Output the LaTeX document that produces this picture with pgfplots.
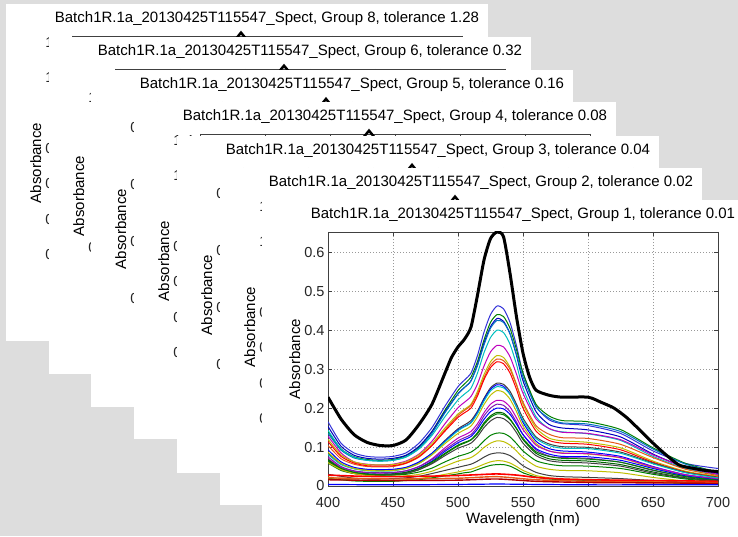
\documentclass[border=0pt]{standalone}
\usepackage{pgfplots}
\pgfplotsset{compat=1.18}
\usepackage{fontspec}
\setmainfont{Liberation Sans}
\definecolor{bggray}{RGB}{221,221,221}
\definecolor{mblue}{rgb}{0,0,1}
\definecolor{mviolet}{rgb}{0.2,0.2,0.85}
\definecolor{mnavy}{rgb}{0,0,0.75}
\definecolor{msteel}{rgb}{0,0.45,0.75}
\definecolor{mgreen}{rgb}{0,0.5,0}
\definecolor{mdgreen}{rgb}{0,0.4,0}
\definecolor{mred}{rgb}{1,0,0}
\definecolor{morange}{rgb}{0.9,0.35,0.1}
\definecolor{mcyan}{rgb}{0,0.75,0.75}
\definecolor{mmag}{rgb}{0.75,0,0.75}
\definecolor{mpurple}{rgb}{0.5,0.1,0.7}
\definecolor{myel}{rgb}{0.75,0.75,0}
\definecolor{mgray}{rgb}{0.25,0.25,0.25}
\definecolor{mdred}{rgb}{0.7,0,0}

\pgfplotsset{
  win/.style={
    scale only axis, width=390pt, height=254pt, anchor=south west,
    xmin=400, xmax=700, ymin=0,
    xtick={400,450,...,700},
    tick align=inside,
    axis line style={black!75},
    grid=major,
    grid style={black!40, dash pattern=on 0.8pt off 2.2pt, line width=0.5pt},
    tick style={black!75},
    major tick length=4pt,
    tick label style={font=\fontsize{14.5}{16}\selectfont, black!85},
    xticklabel style={yshift=-8pt},
    /pgf/number format/assume math mode=true,
    scaled y ticks=false,
    title style={font=\fontsize{15}{17}\selectfont, at={(axis description cs:0.5,1)}, anchor=center, yshift=11pt},
    ylabel={Absorbance},
    ylabel style={font=\fontsize{15}{17}\selectfont, at={(axis description cs:-0.085,0.5)}, anchor=center},
    xlabel={Wavelength (nm)},
    xlabel style={font=\fontsize{15}{17}\selectfont, at={(axis description cs:0.5,-0.134)}, anchor=center},
  },
  back/.style={win, clip=false,
    yticklabel style={xshift=-3pt},
    ylabel style={at={(axis description cs:-0.093,0.5)}}},
  wA/.style={back, ymax=1.436, ytick={0,0.2,...,1.4}},
  wB/.style={back, ymax=1.69, ytick={0,0.5,1,1.5}},
  wC/.style={back, ymax=0.4456, ytick={0,0.1,...,0.4}},
  c/.style={smooth, tension=0.4, line width=1pt, #1},
}

\begin{document}
\begin{tikzpicture}[x=1pt,y=1pt]
\path[use as bounding box] (0,0) rectangle (738,536);
\clip (0,0) rectangle (738,536);
\fill[bggray] (0,0) rectangle (738,536);

% ---- Group 8 window
\fill[white] (6,195) rectangle (488,532);
\begin{axis}[wA, at={(72pt,246pt)}, title={Batch1R.1a\_20130425T115547\_Spect, Group 8, tolerance 1.28}]
\addplot[black, line width=2.5pt] coordinates {(521,1.33)(525,1.41)(530,1.455)(535,1.41)(539,1.33)};
\end{axis}

% ---- Group 6 window
\fill[white] (49,162) rectangle (531,499);
\begin{axis}[wB, at={(115pt,213pt)}, title={Batch1R.1a\_20130425T115547\_Spect, Group 6, tolerance 0.32}]
\addplot[black, line width=2.5pt] coordinates {(521,1.57)(525,1.66)(530,1.712)(535,1.66)(539,1.57)};
\end{axis}

% ---- Group 5 window
\fill[white] (91,129) rectangle (573,466);
\begin{axis}[wC, at={(157pt,180pt)}, title={Batch1R.1a\_20130425T115547\_Spect, Group 5, tolerance 0.16}]
\addplot[black, line width=2.5pt] coordinates {(521,0.414)(525,0.437)(530,0.451)(535,0.437)(539,0.414)};
\end{axis}

% ---- Group 4 window
\fill[white] (134,97) rectangle (616,434);
\begin{axis}[wA, at={(200pt,148pt)}, title={Batch1R.1a\_20130425T115547\_Spect, Group 4, tolerance 0.08}]
\addplot[black, line width=2.5pt] coordinates {(521,1.33)(525,1.41)(530,1.455)(535,1.41)(539,1.33)};
\end{axis}

% ---- Group 3 window
\fill[white] (177,63) rectangle (659,400);
\begin{axis}[wC, at={(243pt,114pt)}, title={Batch1R.1a\_20130425T115547\_Spect, Group 3, tolerance 0.04}]
\addplot[black, line width=2.5pt] coordinates {(521,0.414)(525,0.437)(530,0.451)(535,0.437)(539,0.414)};
\end{axis}

% ---- Group 2 window
\fill[white] (220,31) rectangle (702,368);
\begin{axis}[wA, at={(286pt,82pt)}, title={Batch1R.1a\_20130425T115547\_Spect, Group 2, tolerance 0.02}]
\addplot[black, line width=2.5pt] coordinates {(521,1.33)(525,1.41)(530,1.455)(535,1.41)(539,1.33)};
\end{axis}

% ---- Group 1 window (front)
\fill[white] (262,-1) rectangle (744,336);
\begin{axis}[win, at={(328pt,50pt)}, ymax=0.652, ytick={0,0.1,...,0.6},
  title={Batch1R.1a\_20130425T115547\_Spect, Group 1, tolerance 0.01}]
\addplot[c=mviolet] coordinates {(400,.165)(410,.110)(420,.085)(430,.076)(440,.074)(450,.076)(460,.085)(470,.110)(480,.150)(490,.205)(500,.255)(505,.272)(510,.290)(515,.335)(520,.395)(525,.440)(530,.462)(535,.455)(540,.420)(545,.360)(550,.290)(560,.205)(570,.170)(580,.160)(600,.155)(625,.135)(650,.090)(675,.058)(700,.045)};
\addplot[c=mgreen] coordinates {(400,.140)(410,.095)(420,.075)(430,.068)(440,.066)(450,.068)(460,.078)(470,.100)(480,.140)(490,.195)(500,.245)(505,.262)(510,.280)(515,.320)(520,.375)(525,.420)(530,.440)(535,.435)(540,.405)(545,.350)(550,.290)(560,.210)(570,.180)(580,.168)(600,.165)(625,.145)(650,.098)(675,.058)(700,.036)};
\addplot[c=mnavy] coordinates {(400,.153)(410,.102)(420,.079)(430,.071)(440,.069)(450,.071)(460,.079)(470,.102)(480,.140)(490,.191)(500,.237)(505,.253)(510,.270)(515,.312)(520,.367)(525,.409)(530,.430)(535,.423)(540,.391)(545,.335)(550,.270)(560,.191)(570,.158)(580,.149)(600,.144)(625,.126)(650,.082)(675,.048)(700,.032)};
\addplot[c=msteel] coordinates {(400,.135)(410,.092)(420,.072)(430,.066)(440,.064)(450,.066)(460,.075)(470,.097)(480,.135)(490,.188)(500,.236)(505,.253)(510,.270)(515,.309)(520,.362)(525,.405)(530,.425)(535,.420)(540,.391)(545,.338)(550,.280)(560,.203)(570,.174)(580,.162)(600,.159)(625,.140)(650,.095)(675,.056)(700,.035)};
\addplot[c=mcyan] coordinates {(400,.143)(410,.095)(420,.074)(430,.066)(440,.064)(450,.066)(460,.074)(470,.095)(480,.130)(490,.178)(500,.221)(505,.236)(510,.251)(515,.290)(520,.342)(525,.381)(530,.400)(535,.394)(540,.364)(545,.312)(550,.251)(560,.178)(570,.147)(580,.139)(600,.134)(625,.117)(650,.076)(675,.045)(700,.029)};
\addplot[c=mmag] coordinates {(400,.128)(410,.085)(420,.062)(430,.056)(440,.054)(450,.056)(460,.064)(470,.082)(480,.115)(490,.160)(500,.201)(505,.215)(510,.230)(515,.262)(520,.308)(525,.344)(530,.361)(535,.357)(540,.332)(545,.287)(550,.238)(560,.172)(570,.148)(580,.138)(600,.135)(625,.119)(650,.080)(675,.048)(700,.030)};
\addplot[c=myel] coordinates {(400,.120)(410,.080)(420,.062)(430,.055)(440,.054)(450,.055)(460,.062)(470,.080)(480,.109)(490,.149)(500,.185)(505,.197)(510,.210)(515,.243)(520,.286)(525,.319)(530,.335)(535,.330)(540,.305)(545,.261)(550,.210)(560,.149)(570,.123)(580,.116)(600,.112)(625,.098)(650,.064)(675,.038)(700,.025)};
\addplot[c=morange] coordinates {(400,.104)(410,.070)(420,.056)(430,.050)(440,.049)(450,.050)(460,.058)(470,.074)(480,.104)(490,.144)(500,.181)(505,.194)(510,.207)(515,.237)(520,.278)(525,.311)(530,.326)(535,.322)(540,.300)(545,.259)(550,.215)(560,.155)(570,.133)(580,.124)(600,.122)(625,.107)(650,.073)(675,.043)(700,.027)};
\addplot[c=mred] coordinates {(400,.114)(410,.076)(420,.059)(430,.052)(440,.051)(450,.052)(460,.059)(470,.076)(480,.104)(490,.141)(500,.176)(505,.188)(510,.200)(515,.231)(520,.273)(525,.304)(530,.319)(535,.314)(540,.290)(545,.248)(550,.200)(560,.141)(570,.117)(580,.110)(600,.107)(625,.093)(650,.061)(675,.036)(700,.023)};
\addplot[c=mgray] coordinates {(400,.084)(410,.057)(420,.045)(430,.041)(440,.040)(450,.041)(460,.047)(470,.060)(480,.084)(490,.117)(500,.147)(505,.157)(510,.168)(515,.192)(520,.225)(525,.252)(530,.264)(535,.261)(540,.243)(545,.210)(550,.174)(560,.126)(570,.108)(580,.101)(600,.099)(625,.087)(650,.059)(675,.035)(700,.022)};
\addplot[c=mblue] coordinates {(400,.093)(410,.062)(420,.048)(430,.043)(440,.042)(450,.043)(460,.048)(470,.062)(480,.084)(490,.115)(500,.144)(505,.153)(510,.163)(515,.189)(520,.222)(525,.248)(530,.260)(535,.256)(540,.236)(545,.203)(550,.163)(560,.115)(570,.096)(580,.090)(600,.087)(625,.076)(650,.050)(675,.029)(700,.019)};
\addplot[c=mcyan] coordinates {(400,.081)(410,.055)(420,.044)(430,.039)(440,.038)(450,.039)(460,.045)(470,.058)(480,.081)(490,.113)(500,.142)(505,.152)(510,.162)(515,.186)(520,.218)(525,.244)(530,.255)(535,.252)(540,.235)(545,.203)(550,.168)(560,.122)(570,.104)(580,.097)(600,.096)(625,.084)(650,.057)(675,.034)(700,.021)};
\addplot[c=myel] coordinates {(400,.087)(410,.058)(420,.045)(430,.040)(440,.039)(450,.040)(460,.045)(470,.058)(480,.080)(490,.109)(500,.135)(505,.144)(510,.154)(515,.178)(520,.209)(525,.233)(530,.245)(535,.241)(540,.223)(545,.191)(550,.154)(560,.109)(570,.090)(580,.085)(600,.082)(625,.072)(650,.047)(675,.028)(700,.018)};
\addplot[c=mmag] coordinates {(400,.070)(410,.048)(420,.038)(430,.034)(440,.033)(450,.034)(460,.039)(470,.050)(480,.070)(490,.098)(500,.123)(505,.131)(510,.140)(515,.160)(520,.188)(525,.210)(530,.220)(535,.218)(540,.203)(545,.175)(550,.145)(560,.105)(570,.090)(580,.084)(600,.083)(625,.073)(650,.049)(675,.029)(700,.018)};
\addplot[c=mpurple] coordinates {(400,.075)(410,.050)(420,.039)(430,.035)(440,.034)(450,.035)(460,.039)(470,.050)(480,.068)(490,.093)(500,.116)(505,.124)(510,.132)(515,.152)(520,.180)(525,.200)(530,.210)(535,.207)(540,.191)(545,.164)(550,.132)(560,.093)(570,.077)(580,.073)(600,.071)(625,.061)(650,.040)(675,.024)(700,.015)};
\addplot[c=mblue] coordinates {(400,.064)(410,.043)(420,.034)(430,.031)(440,.030)(450,.031)(460,.035)(470,.046)(480,.064)(490,.089)(500,.111)(505,.119)(510,.127)(515,.146)(520,.171)(525,.191)(530,.200)(535,.198)(540,.184)(545,.159)(550,.132)(560,.096)(570,.082)(580,.076)(600,.075)(625,.066)(650,.045)(675,.026)(700,.016)};
\addplot[c=mdgreen] coordinates {(400,.068)(410,.045)(420,.035)(430,.031)(440,.030)(450,.031)(460,.035)(470,.045)(480,.062)(490,.084)(500,.105)(505,.112)(510,.119)(515,.137)(520,.162)(525,.180)(530,.189)(535,.187)(540,.172)(545,.148)(550,.119)(560,.084)(570,.070)(580,.066)(600,.064)(625,.055)(650,.036)(675,.021)(700,.014)};
\addplot[c=mgreen] coordinates {(400,.059)(410,.040)(420,.032)(430,.029)(440,.028)(450,.029)(460,.033)(470,.042)(480,.059)(490,.082)(500,.103)(505,.110)(510,.118)(515,.134)(520,.158)(525,.176)(530,.185)(535,.183)(540,.170)(545,.147)(550,.122)(560,.088)(570,.076)(580,.071)(600,.069)(625,.061)(650,.041)(675,.024)(700,.015)};
\addplot[c=mgray] coordinates {(400,.063)(410,.042)(420,.032)(430,.029)(440,.028)(450,.029)(460,.032)(470,.042)(480,.057)(490,.078)(500,.097)(505,.103)(510,.110)(515,.127)(520,.150)(525,.167)(530,.176)(535,.173)(540,.160)(545,.137)(550,.110)(560,.078)(570,.065)(580,.061)(600,.059)(625,.051)(650,.033)(675,.020)(700,.013)};
\addplot[c=mgreen] coordinates {(400,.065)(410,.045)(420,.035)(430,.030)(440,.028)(450,.028)(460,.030)(470,.036)(480,.046)(490,.062)(500,.076)(505,.081)(510,.087)(515,.099)(520,.116)(525,.130)(530,.136)(535,.135)(540,.126)(545,.109)(550,.090)(560,.065)(570,.056)(580,.052)(600,.051)(625,.045)(650,.030)(675,.018)(700,.011)};
\addplot[c=myel] coordinates {(400,.060)(410,.042)(420,.032)(430,.027)(440,.025)(450,.025)(460,.026)(470,.030)(480,.038)(490,.051)(500,.064)(505,.068)(510,.073)(515,.084)(520,.099)(525,.110)(530,.116)(535,.114)(540,.105)(545,.090)(550,.073)(560,.051)(570,.043)(580,.040)(600,.039)(625,.034)(650,.022)(675,.013)(700,.009)};
\addplot[c=mgray] coordinates {(400,.030)(410,.025)(420,.020)(430,.018)(440,.018)(450,.019)(460,.021)(470,.025)(480,.032)(490,.040)(500,.048)(505,.052)(510,.056)(515,.064)(520,.074)(525,.082)(530,.085)(535,.084)(540,.078)(545,.066)(550,.052)(560,.035)(570,.027)(580,.024)(600,.022)(625,.019)(650,.014)(675,.010)(700,.008)};
\addplot[c=myel] coordinates {(400,.023)(410,.019)(420,.015)(430,.014)(440,.014)(450,.014)(460,.016)(470,.019)(480,.024)(490,.030)(500,.036)(505,.040)(510,.043)(515,.049)(520,.056)(525,.062)(530,.065)(535,.064)(540,.059)(545,.050)(550,.040)(560,.027)(570,.021)(580,.018)(600,.017)(625,.014)(650,.011)(675,.008)(700,.006)};
\addplot[c=mgreen] coordinates {(400,.020)(410,.016)(420,.013)(430,.012)(440,.012)(450,.012)(460,.014)(470,.016)(480,.021)(490,.026)(500,.031)(505,.034)(510,.036)(515,.042)(520,.048)(525,.053)(530,.055)(535,.055)(540,.051)(545,.043)(550,.034)(560,.023)(570,.018)(580,.016)(600,.014)(625,.012)(650,.009)(675,.007)(700,.005)};
% near-flat spectra
\addplot[c=mred, line width=1.6pt] coordinates {(400,.028)(425,.025)(450,.024)(475,.025)(500,.027)(515,.029)(530,.031)(545,.028)(560,.022)(580,.018)(600,.016)(650,.014)(700,.012)};
\addplot[c=morange, line width=1.4pt] coordinates {(400,.021)(450,.018)(500,.020)(530,.024)(560,.016)(600,.012)(650,.010)(700,.009)};
\addplot[c=mdred, line width=1.4pt] coordinates {(400,.016)(450,.014)(500,.015)(530,.018)(560,.012)(600,.009)(650,.008)(700,.007)};
\addplot[c=mblue, line width=1.2pt] coordinates {(400,.004)(450,.003)(500,.004)(530,.005)(560,.004)(600,.003)(650,.003)(700,.003)};
% reference spectrum
\addplot[black, line width=3pt, smooth, tension=0.4] coordinates {(400,.228)(410,.172)(420,.132)(430,.112)(440,.104)(450,.104)(460,.118)(470,.158)(480,.210)(490,.290)(495,.330)(500,.357)(505,.377)(510,.408)(515,.490)(520,.580)(525,.635)(530,.652)(535,.640)(540,.546)(545,.434)(550,.341)(555,.280)(560,.246)(570,.233)(580,.228)(600,.228)(610,.215)(620,.200)(630,.175)(640,.143)(650,.110)(660,.080)(670,.054)(680,.046)(690,.040)(700,.037)};
\end{axis}
\end{tikzpicture}
\end{document}
